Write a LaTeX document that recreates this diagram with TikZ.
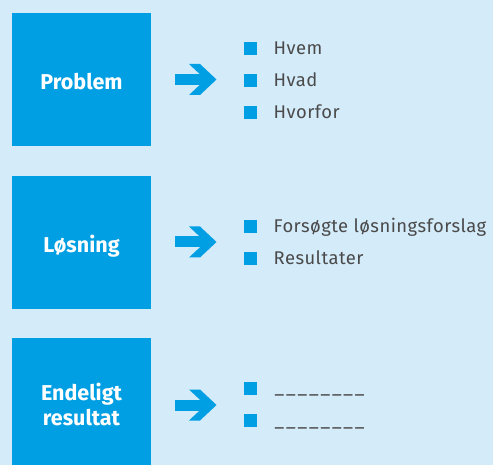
\documentclass[tikz,border=0pt]{standalone}
\usepackage{fontspec}
\setmainfont{Fira Sans}
\newfontfamily\itemfont[LetterSpace=2.5]{Fira Sans}
\definecolor{bg}{HTML}{D4EBFA}
\definecolor{boxblue}{HTML}{009FE3}
\definecolor{txt}{HTML}{4A4A4A}
\tikzset{
  bigbox/.style={fill=boxblue, minimum width=139pt, minimum height=133pt, inner sep=0pt,
    text=white, font=\bfseries\fontsize{21.5}{24.5}\selectfont, align=center},
  oneline/.style={text height=21pt, text depth=0pt},
  bulletsq/.style={fill=boxblue, minimum size=13pt, inner sep=0pt},
  itemtext/.style={anchor=base west, inner sep=0pt, text=txt, font=\itemfont\fontsize{18.4}{22}\selectfont},
  pics/bigarrow/.style={code={
    \fill[boxblue] (-21,-5.5) rectangle (10,5.5);
    \fill[boxblue] (-7,-15.5) -- (4,-15.5) -- (20.5,0) -- (4,15.5) -- (-7,15.5) -- (9.5,0) -- cycle;
  }}
}
\begin{document}
\begin{tikzpicture}[x=1pt,y=-1pt]
\useasboundingbox[fill=bg] (0,0) rectangle (493,465);
% boxes
\node[bigbox, oneline] (p) at (81.5,79.5) {Problem};
\node[bigbox, oneline] (l) at (81.5,242.5) {Løsning};
\node[bigbox] (e) at (81.5,404.5) {Endeligt\\resultat};
% arrows
\pic at (196,79.5) {bigarrow};
\pic at (196,242) {bigarrow};
\pic at (196,405) {bigarrow};
% bullets section 1
\node[bulletsq] (b11) at (250.5,48.5) {};
\node[bulletsq] (b12) at (250.5,80.5) {};
\node[bulletsq] (b13) at (250.5,112.5) {};
\node[itemtext] (t11) at (273.5,54.4) {Hvem};
\node[itemtext] (t12) at (273.5,86.4) {Hvad};
\node[itemtext] (t13) at (273.5,118.4) {Hvorfor};
% section 2
\node[bulletsq] (b21) at (250.5,227) {};
\node[bulletsq] (b22) at (250.5,259) {};
\node[itemtext] (t21) at (273.5,232.9) {Forsøgte løsningsforslag};
\node[itemtext] (t22) at (273.5,264.9) {Resultater};
% section 3
\node[bulletsq] (b31) at (250.5,388.3) {};
\node[bulletsq] (b32) at (250.5,420.3) {};
\node[itemtext] (t31) at (274.5,393.8) {\_\kern1.9pt\_\kern1.9pt\_\kern1.9pt\_\kern1.9pt\_\kern1.9pt\_\kern1.9pt\_\kern1.9pt\_};
\node[itemtext] (t32) at (274.5,426.6) {\_\kern1.9pt\_\kern1.9pt\_\kern1.9pt\_\kern1.9pt\_\kern1.9pt\_\kern1.9pt\_\kern1.9pt\_};
\end{tikzpicture}
\end{document}
